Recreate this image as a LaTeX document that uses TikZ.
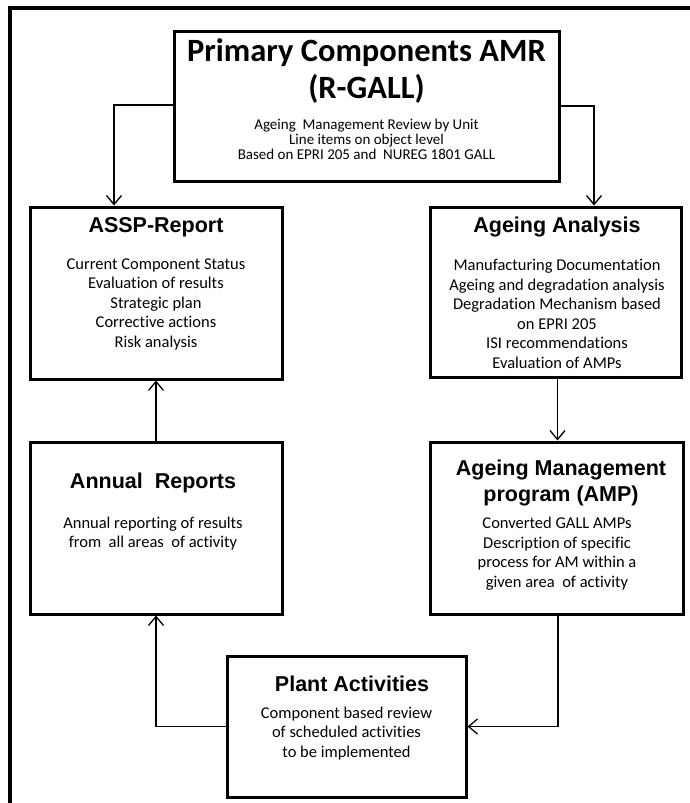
\documentclass[tikz,border=0pt]{standalone}
\usepackage{fontspec}
\setmainfont{Carlito}[Ligatures={NoCommon,NoDiscretionary}]
\newfontfamily\arialfont{Liberation Sans}
\usetikzlibrary{arrows.meta,calc}
\tikzset{
  boxnode/.style={draw=black, line width=3pt, minimum width=#1, inner sep=0pt},
  conn/.style={draw=black, line width=1.3pt, -{Straight Barb[length=9pt,width=15pt,line width=1.3pt]}},
  ttl/.style={anchor=base, inner sep=0pt, align=center, font=\arialfont\bfseries\fontsize{21.5}{26}\selectfont},
  bodytxt/.style={anchor=base, inner sep=0pt, align=center, font=\fontsize{16.5}{19.5}\selectfont},
}
\begin{document}
\begin{tikzpicture}[x=1pt,y=-1pt]
\useasboundingbox (0,0) rectangle (689,803);
% outer frame (left and top only)
\coordinate (fbl) at (10,805);
\coordinate (ftl) at (10,8);
\coordinate (ftr) at (691,8);
\draw[line width=4pt] (fbl) -- (ftl) -- (ftr);

% boxes
\node[boxnode=385pt, minimum height=150pt] (top) at (366.5,106) {};
\node[boxnode=252pt, minimum height=172pt] (assp) at (156,293) {};
\node[boxnode=251pt, minimum height=170pt] (aa) at (555.5,292) {};
\node[boxnode=252pt, minimum height=172pt] (annual) at (156,528) {};
\node[boxnode=253pt, minimum height=172pt] (amp) at (556.5,528) {};
\node[boxnode=239pt, minimum height=141pt] (plant) at (346.5,726.5) {};

% texts (base anchor = baseline of the last line)
\node[anchor=base, inner sep=0pt, align=center, font=\bfseries\fontsize{32.5}{37}\selectfont] (toptitle) at (366.5,98) {Primary Components AMR\\(R-GALL)};
\node[anchor=base, inner sep=0pt, align=center, font=\fontsize{15}{14.8}\selectfont] (topbody) at (366.5,159) {Ageing~ Management Review by Unit\\Line items on object level\\Based on EPRI 205 and~ NUREG 1801 GALL};

\node[ttl] (assptitle) at (156,232) {ASSP-Report};
\node[bodytxt] (asspbody) at (156,347) {Current Component Status\\Evaluation of results\\Strategic plan\\Corrective actions\\Risk analysis};

\node[ttl] (aatitle) at (557,232) {Ageing Analysis};
\node[bodytxt] (aabody) at (557,368) {Manufacturing Documentation\\Ageing and degradation analysis\\Degradation Mechanism based\\on EPRI 205\\ISI recommendations\\Evaluation of AMPs};

\node[ttl] (annualtitle) at (153,488) {Annual~ Reports};
\node[bodytxt] (annualbody) at (153,547.5) {Annual reporting of results\\from~ all areas~ of activity};

\node[ttl] (amptitle) at (561,501) {Ageing Management\\program (AMP)};
\node[bodytxt] (ampbody) at (557,587) {Converted GALL AMPs\\Description of specific\\process for AM within a\\given area~ of activity};

\node[ttl] (planttitle) at (352,691) {Plant Activities};
\node[bodytxt] (plantbody) at (346.5,757) {Component based review\\of scheduled activities\\to be implemented};

% connectors
\draw[conn] ($(top.west)+(0,-1)$) -| ([xshift=-42pt]assp.north);
\draw[conn] (top.east) -| ([xshift=38.5pt]aa.north);
\draw[conn] (annual.north) -- (assp.south);
\draw[conn] ([xshift=2pt]aa.south) -- ([xshift=1pt]amp.north);
\draw[conn] ([xshift=1.5pt]amp.south) |- (plant.east);
\draw[conn] (plant.west) -| (annual.south);
\end{tikzpicture}
\end{document}
